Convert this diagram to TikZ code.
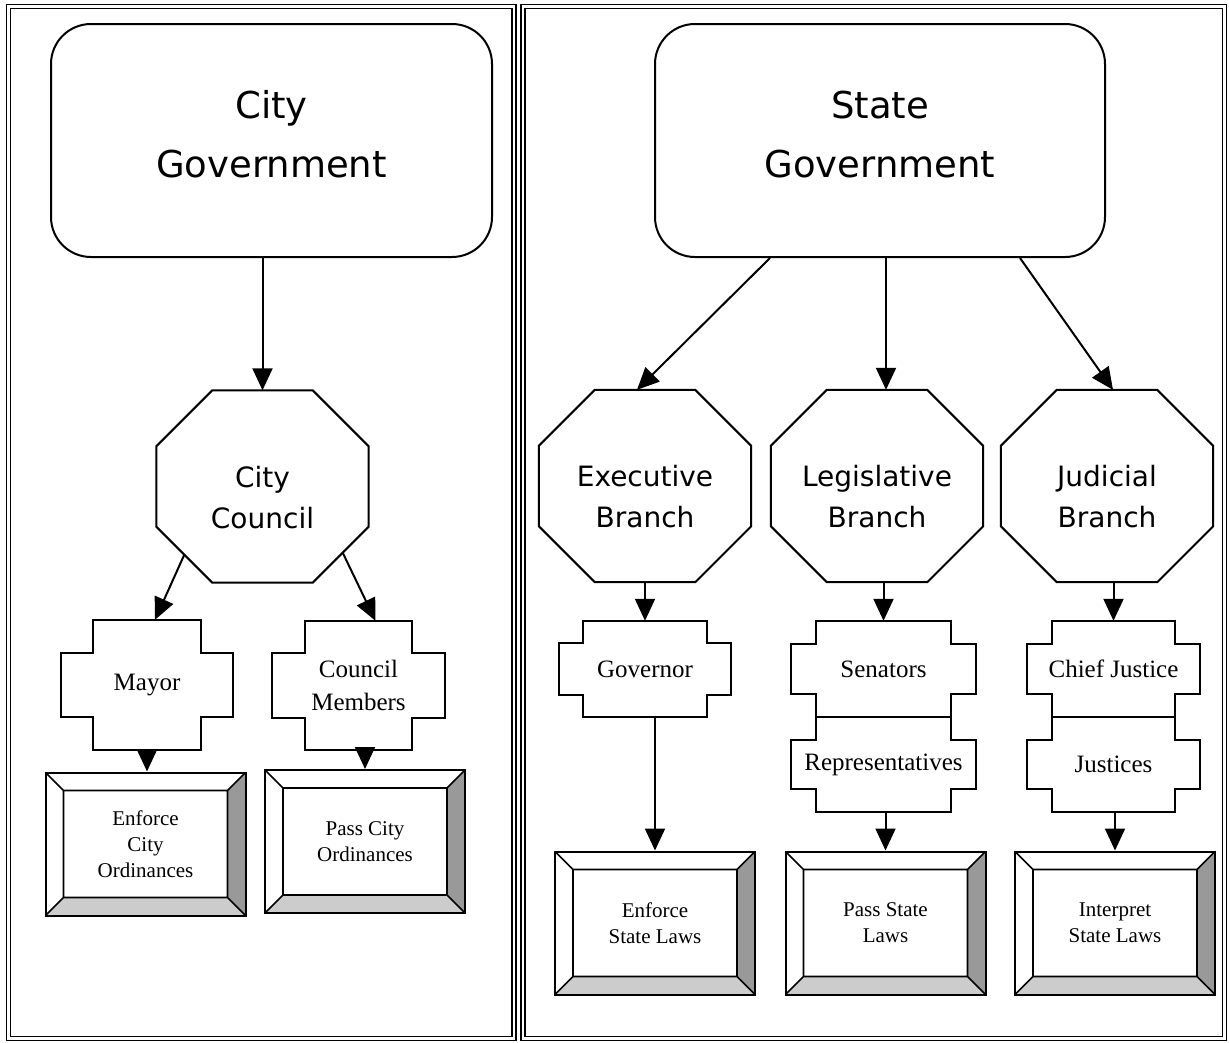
\documentclass[tikz,border=0pt]{standalone}
\usepackage{fontspec}
\setmainfont{Liberation Serif}
\newfontfamily\headfont{DejaVu Sans}
\usetikzlibrary{arrows.meta,calc}
\definecolor{bevelshade}{HTML}{999999}
\definecolor{bevellight}{HTML}{CCCCCC}

\begin{document}
\begin{tikzpicture}[x=1pt, y=-1pt,
	panel/.style={double, double distance=2.6pt, line width=1.4pt},
	govbox/.style={draw, line width=2pt, rounded corners=40pt, minimum width=441pt, minimum height=233pt},
	govtext/.style={font=\headfont\fontsize{37}{59}\selectfont, align=center, yshift=6pt},
	branch/.style={minimum width=212pt, minimum height=192pt, inner sep=0pt,
		append after command={\pgfextra{\draw[line width=2pt]
			($(\tikzlastnode.north west)+(56,0)$) -- ($(\tikzlastnode.north east)+(-56,0)$)
			-- ($(\tikzlastnode.north east)+(0,56)$) -- ($(\tikzlastnode.south east)+(0,-56)$)
			-- ($(\tikzlastnode.south east)+(-56,0)$) -- ($(\tikzlastnode.south west)+(56,0)$)
			-- ($(\tikzlastnode.south west)+(0,-56)$) -- ($(\tikzlastnode.north west)+(0,56)$) -- cycle;}}},
	branchtext/.style={font=\headfont\fontsize{28}{41}\selectfont, align=center, yshift=-11pt},
	stepbox/.style n args={4}{minimum width=#1, minimum height=#2, inner sep=0pt, align=center,
		font=\fontsize{25}{33}\selectfont,
		append after command={\pgfextra{\draw[line width=2pt]
			($(\tikzlastnode.north west)+(#3,0)$) -- ++(#1-2*#3,0) -- ++(0,#4) -- ++(#3,0)
			-- ++(0,#2-2*#4) -- ++(-#3,0) -- ++(0,#4) -- ++(2*#3-#1,0) -- ++(0,-#4)
			-- ++(-#3,0) -- ++(0,2*#4-#2) -- ++(#3,0) -- cycle;}}},
	plaque/.style={draw, line width=2pt, minimum width=200pt, minimum height=143pt, inner sep=0pt,
		align=center, font=\fontsize{21}{26}\selectfont,
		path picture={
			\coordinate (p1) at (path picture bounding box.north west);
			\coordinate (p2) at (path picture bounding box.north east);
			\coordinate (p3) at (path picture bounding box.south east);
			\coordinate (p4) at (path picture bounding box.south west);
			\coordinate (q1) at ($(p1)+(18,18)$);
			\coordinate (q2) at ($(p2)+(-18,18)$);
			\coordinate (q3) at ($(p3)+(-18,-18)$);
			\coordinate (q4) at ($(p4)+(18,-18)$);
			\fill[bevelshade] (p2) -- (p3) -- (q3) -- (q2) -- cycle;
			\fill[bevellight] (p4) -- (p3) -- (q3) -- (q4) -- cycle;
			\draw[line width=1.7pt] (q1) rectangle (q3) (p1) -- (q1) (p2) -- (q2) (p3) -- (q3) (p4) -- (q4);
		}},
	arrow/.style={-{Triangle[length=22pt, width=20pt]}, line width=2pt}]

	\fill[white] (0,0) rectangle (1229,1042);
	\useasboundingbox (0,0) rectangle (1229,1042);

	% the two panels
	\draw[panel] (8.5,6.5) rectangle (514,1038.5);
	\draw[panel] (523,6.5) rectangle (1224.5,1038.5);

	% city
	\node[govbox, label={[govtext]center:City\\Government}] (citygov) at (271.5,140.5) {};
	\node[branch, label={[branchtext]center:City\\Council}] (council) at (262.5,486.5) {};
	\node[stepbox={172}{130}{32}{33}] (mayor) at (147,685) {Mayor};
	\node[stepbox={173}{129}{33}{32}] (members) at (358.5,685.5) {Council\\Members};
	\node[plaque] (enforcecity) at (145.5,844) {Enforce\\City\\Ordinances};
	\node[plaque] (passcity) at (365,841.5) {Pass City\\Ordinances};

	\draw[arrow] (citygov.south -| council.north) -- (council.north);
	\draw[arrow] ($(council.south west)+(28,-28)$) -- ([xshift=8pt]mayor.north);
	\draw[arrow] ($(council.south east)+(-26,-30)$) -- ([xshift=17pt]members.north);
	\draw[arrow] (mayor.south) -- (mayor.south |- enforcecity.north);
	\draw[arrow] (members.south -| passcity.north) -- (passcity.north);

	% state
	\node[govbox, minimum width=450pt, label={[govtext]center:State\\Government}] (stategov) at (880,140.5) {};
	\node[branch, label={[branchtext]center:Executive\\Branch}] (exec) at (645,486) {};
	\node[branch, label={[branchtext]center:Legislative\\Branch}] (legis) at (877,486) {};
	\node[branch, label={[branchtext]center:Judicial\\Branch}] (judic) at (1107,486) {};
	\node[stepbox={172}{96}{24}{22}] (governor) at (645,669) {Governor};
	\node[stepbox={185}{96}{25}{23}] (senators) at (883.5,669) {Senators};
	\node[stepbox={185}{95}{25}{23}] (reps) at (883.5,764.5) {Representatives};
	\node[stepbox={173}{96}{25}{23}] (chief) at (1113.5,669) {Chief Justice};
	\node[stepbox={173}{95}{25}{23}] (justices) at (1113.5,764.5) {Justices};
	\node[plaque] (enforcestate) at (655,923) {Enforce\\State Laws};
	\node[plaque] (passstate) at (885.5,923) {Pass State\\Laws};
	\node[plaque] (interpret) at (1115,923) {Interpret\\State Laws};

	\draw[arrow] ([xshift=-110pt]stategov.south) -- ([xshift=-8pt]exec.north);
	\draw[arrow] ([xshift=6pt]stategov.south) -- ([xshift=9pt]legis.north);
	\draw[arrow] ([xshift=140pt]stategov.south) -- ([xshift=6pt]judic.north);
	\draw[arrow] (exec.south) -- (governor.north);
	\draw[arrow] (legis.south -| senators.north) -- (senators.north);
	\draw[arrow] (judic.south -| chief.north) -- (chief.north);
	\draw[arrow] (governor.south -| enforcestate.north) -- (enforcestate.north);
	\draw[arrow] (reps.south -| passstate.north) -- (passstate.north);
	\draw[arrow] (justices.south -| interpret.north) -- (interpret.north);
\end{tikzpicture}
\end{document}
